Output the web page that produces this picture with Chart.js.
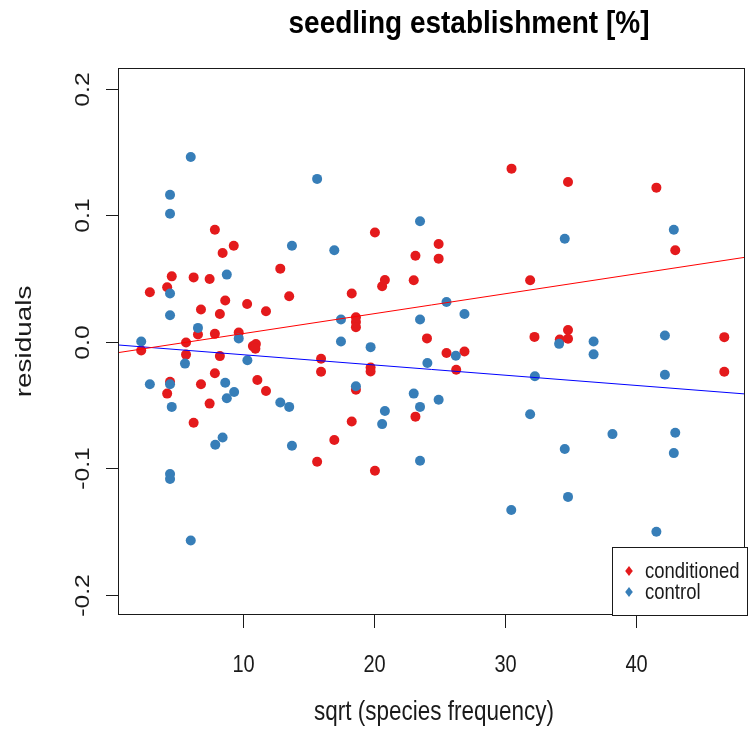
<!DOCTYPE html>
<html>
<head>
<meta charset="utf-8">
<script src="https://cdn.jsdelivr.net/npm/chart.js@4.4.1/dist/chart.umd.min.js"></script>
<style>
  html, body { margin: 0; padding: 0; background: #ffffff; }
  #wrap { width: 750px; height: 731px; }
</style>
</head>
<body>
<div id="wrap"><canvas id="c" width="750" height="731"></canvas></div>
<script>
// Residuals of seedling establishment against sqrt(species frequency)
const conditionedX = [2.24, 2.90, 4.22, 4.22, 4.44, 4.57, 5.66, 5.66, 6.24, 6.24,
  6.57, 6.80, 6.80, 7.46, 7.46, 7.86, 7.86, 7.86, 8.24, 8.24,
  8.45, 8.65, 9.30, 9.68, 10.32, 10.76, 10.99, 10.95, 11.10, 11.76,
  11.76, 12.85, 13.53, 15.96, 15.96, 15.66, 16.97, 18.30, 18.30, 18.62,
  18.62, 18.62, 18.62, 19.74, 19.74, 20.07, 20.07, 20.62, 20.83, 23.03,
  23.16, 23.16, 24.04, 24.93, 24.93, 25.53, 26.27, 26.90, 30.49, 31.91,
  32.24, 34.17, 34.80, 34.80, 34.80, 41.54, 42.98, 46.72, 46.72];
const conditionedY = [-0.0068, 0.0391, 0.0431, -0.0409, -0.0315, 0.0517, -0.0006, -0.0101, 0.0509, -0.0640,
  0.0058, 0.0255, -0.0335, 0.0496, -0.0488, 0.0885, 0.0063, -0.0249, 0.0220, -0.0113,
  0.0701, 0.0326, 0.0759, 0.0074, 0.0299, -0.0034, -0.0018, -0.0054, -0.0302, 0.0242,
  -0.0388, 0.0578, 0.0360, -0.0134, -0.0236, -0.0947, -0.0776, 0.0381, -0.0630, 0.0194,
  0.0157, 0.0116, -0.0378, -0.0203, -0.0235, 0.0864, -0.1018, 0.0439, 0.0488, 0.0486,
  0.0680, -0.0591, 0.0027, 0.0772, 0.0657, -0.0089, -0.0220, -0.0077, 0.1368, 0.0486,
  0.0039, 0.0019, 0.1263, 0.0094, 0.0024, 0.1218, 0.0724, 0.0037, -0.0236];

const controlX = [2.24, 2.90, 4.44, 4.44, 4.44, 4.44, 4.44, 4.44, 4.44, 4.57,
  5.58, 6.02, 6.02, 6.57, 7.89, 8.45, 8.65, 8.77, 8.77, 9.33,
  9.68, 10.34, 12.85, 13.53, 13.74, 13.74, 15.66, 16.97, 17.48, 17.48,
  18.62, 19.74, 20.62, 20.83, 23.03, 23.51, 23.51, 23.51, 23.51, 24.07,
  24.93, 25.53, 26.24, 26.90, 30.47, 31.91, 32.27, 34.12, 34.55, 34.55,
  34.80, 36.75, 36.75, 38.19, 41.54, 42.19, 42.19, 42.87, 42.87, 42.98];
const controlY = [0.0003, -0.0335, 0.1161, 0.1011, 0.0381, 0.0210, -0.0335, -0.1044, -0.1083, -0.0514,
  -0.0172, 0.1460, -0.1569, 0.0110, -0.0813, -0.0756, -0.0323, 0.0531, -0.0446, -0.0396,
  0.0027, -0.0146, -0.0479, -0.0514, 0.0759, -0.0821, 0.1287, 0.0724, 0.0176, 0.0003,
  -0.0351, -0.0042, -0.0650, -0.0546, -0.0409, 0.0953, 0.0176, -0.0514, -0.0939, -0.0168,
  -0.0457, 0.0315, -0.0110, 0.0220, -0.1328, -0.0572, -0.0272, -0.0016, 0.0814, -0.0847,
  -0.1225, 0.0003, -0.0099, -0.0729, -0.1501, 0.0050, -0.0260, 0.0885, -0.0879, -0.0719];

// Linear fits drawn across the whole panel: [intercept, slope]
const fitConditioned = [-0.0093, 0.001575];
const fitControl = [-0.0021, -0.000809];

const xTicks = [10, 20, 30, 40];
const xTickLabels = ['10', '20', '30', '40'];
const yTicks = [-0.2, -0.1, 0, 0.1, 0.2];
const yTickLabels = ['-0.2', '-0.1', '0.0', '0.1', '0.2'];

const seriesNames = ['conditioned', 'control'];
const seriesColors = ['#E41A1C', '#377EB8'];

const X_MIN = 0.47, X_MAX = 48.3;
const Y_MIN = -0.2158, Y_MAX = 0.2163;

const FONT = '"Liberation Sans", Arial, Helvetica, sans-serif';
// glyphs are drawn taller than wide (the device is stretched vertically)
const STRETCH = 1.24;

function pts(xs, ys) { return xs.map((v, i) => ({ x: v, y: ys[i] })); }
function fitLine(f) {
  return [X_MIN, X_MAX].map(v => ({ x: v, y: f[0] + f[1] * v }));
}

function hText(ctx, txt, x, y, font, align, stretch) {
  ctx.save();
  ctx.font = font;
  ctx.textAlign = align || 'center';
  ctx.textBaseline = 'alphabetic';
  ctx.translate(x, y);
  ctx.scale(1, stretch || STRETCH);
  ctx.fillText(txt, 0, 0);
  ctx.restore();
}
function vText(ctx, txt, x, y, font) {
  ctx.save();
  ctx.font = font;
  ctx.textAlign = 'center';
  ctx.textBaseline = 'alphabetic';
  ctx.translate(x, y);
  ctx.rotate(-Math.PI / 2);
  ctx.scale(STRETCH, 1);
  ctx.fillText(txt, 0, 0);
  ctx.restore();
}

// Base-graphics style frame, ticks, labels, title and legend
const basePlot = {
  id: 'basePlot',
  afterDraw(chart) {
    const { ctx, chartArea: a, scales: { x, y } } = chart;
    ctx.save();
    ctx.strokeStyle = '#1a1a1a';
    ctx.lineWidth = 1;
    ctx.strokeRect(a.left + 0.5, a.top + 0.5, a.right - a.left - 1, a.bottom - a.top - 1);

    ctx.fillStyle = '#1a1a1a';
    xTicks.forEach((v, i) => {
      const px = Math.round(x.getPixelForValue(v)) + 0.5;
      ctx.beginPath();
      ctx.moveTo(px, a.bottom);
      ctx.lineTo(px, a.bottom + 13);
      ctx.stroke();
      hText(ctx, xTickLabels[i], px, 672, '20px ' + FONT);
    });
    yTicks.forEach((v, i) => {
      const py = Math.round(y.getPixelForValue(v)) + 0.5;
      ctx.beginPath();
      ctx.moveTo(a.left - 12, py);
      ctx.lineTo(a.left, py);
      ctx.stroke();
      vText(ctx, yTickLabels[i], 89, py, '20px ' + FONT);
    });

    // axis titles
    hText(ctx, 'sqrt (species frequency)', 434, 720, '22.5px ' + FONT);
    vText(ctx, 'residuals', 31, (a.top + a.bottom) / 2, '22.5px ' + FONT);

    // main title
    ctx.fillStyle = '#000';
    hText(ctx, 'seedling establishment [%]', 469, 33, 'bold 28px ' + FONT, 'center', 1.1);

    // legend
    const lx = 612, ly = 547;
    ctx.fillStyle = '#ffffff';
    ctx.fillRect(lx, ly, a.right - lx, a.bottom - ly);
    ctx.strokeStyle = '#1a1a1a';
    ctx.strokeRect(lx + 0.5, ly + 0.5, a.right - lx + 2, a.bottom - ly);
    seriesNames.forEach((name, i) => {
      const cy = 571 + i * 21, cx = 629, rv = 5, rh = 3.8;
      ctx.fillStyle = seriesColors[i];
      ctx.beginPath();
      ctx.moveTo(cx, cy - rv);
      ctx.lineTo(cx + rh, cy);
      ctx.lineTo(cx, cy + rv);
      ctx.lineTo(cx - rh, cy);
      ctx.closePath();
      ctx.fill();
      ctx.fillStyle = '#1a1a1a';
      hText(ctx, name, 645, cy + 7, '18.5px ' + FONT, 'left');
    });
    ctx.restore();
  }
};

new Chart(document.getElementById('c'), {
  type: 'scatter',
  data: {
    datasets: [
      {
        type: 'line', label: 'fit ' + seriesNames[0], data: fitLine(fitConditioned),
        borderColor: '#FF0000', borderWidth: 1, pointRadius: 0, fill: false, order: 0
      },
      {
        type: 'line', label: 'fit ' + seriesNames[1], data: fitLine(fitControl),
        borderColor: '#0000FF', borderWidth: 1, pointRadius: 0, fill: false, order: 0
      },
      {
        label: seriesNames[0], data: pts(conditionedX, conditionedY),
        backgroundColor: seriesColors[0], borderWidth: 0, pointRadius: 5, order: 2
      },
      {
        label: seriesNames[1], data: pts(controlX, controlY),
        backgroundColor: seriesColors[1], borderWidth: 0, pointRadius: 5, order: 1
      }
    ]
  },
  options: {
    responsive: false,
    animation: false,
    devicePixelRatio: 1,
    layout: { padding: { left: 118, right: 1, top: 68, bottom: 116 } },
    plugins: { legend: { display: false }, tooltip: { enabled: false }, title: { display: false } },
    scales: {
      x: { type: 'linear', min: X_MIN, max: X_MAX, display: false },
      y: { type: 'linear', min: Y_MIN, max: Y_MAX, display: false }
    }
  },
  plugins: [basePlot]
});
</script>
</body>
</html>
